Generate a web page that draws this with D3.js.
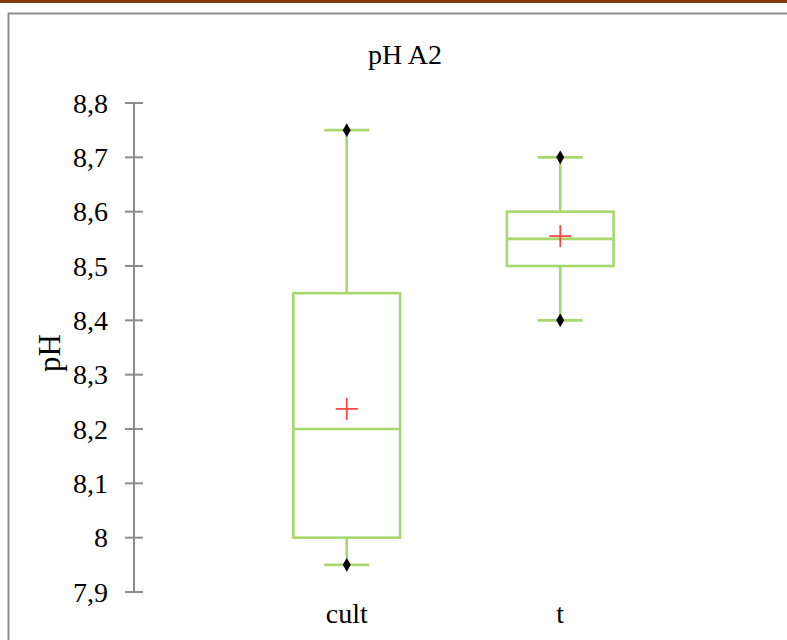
<!DOCTYPE html>
<html>
<head>
<meta charset="utf-8">
<script src="https://cdn.jsdelivr.net/npm/d3@7"></script>
<style>
  html, body { margin: 0; padding: 0; background: #ffffff; }
  svg { display: block; }
  text { font-family: "Liberation Serif", "Times New Roman", serif; fill: #000; }
</style>
</head>
<body>
<svg id="chart" width="787" height="640"></svg>
<script>
// Box plot of pH (sample A2) by group
const categories = ["cult", "t"];
const minimum  = [7.95, 8.40];
const quartile1 = [8.00, 8.50];
const median   = [8.20, 8.55];
const quartile3 = [8.45, 8.60];
const maximum  = [8.75, 8.70];
const mean     = [8.237, 8.555];
const yTicks   = [7.9, 8.0, 8.1, 8.2, 8.3, 8.4, 8.5, 8.6, 8.7, 8.8];

const svg = d3.select("#chart");
const W = 787, H = 640;

// brown rule along the top of the page
svg.append("rect").attr("x", 0).attr("y", 0).attr("width", W).attr("height", 3)
  .attr("fill", "#843c0c");

// chart frame
svg.append("path")
  .attr("d", `M8.5,${H + 5} V13.5 H${W + 5}`)
  .attr("fill", "none").attr("stroke", "#8c8c8c").attr("stroke-width", 2);

const y = d3.scaleLinear().domain([7.9, 8.8]).range([592, 103]);
const x = d3.scaleBand().domain(categories).range([240, 667]).paddingInner(0.5).paddingOuter(0.25);

// y axis
const axisG = svg.append("g").attr("transform", "translate(134,0)");
axisG.call(d3.axisLeft(y).tickValues(yTicks).tickSize(0).tickPadding(26)
  .tickFormat(d => d3.format(".1f")(d).replace(".", ",").replace(",0", "")));
axisG.select(".domain").remove();
axisG.selectAll("text").attr("font-size", 28).attr("font-family", "Liberation Serif").attr("dy", "0.33em");
axisG.append("line").attr("x1", 0).attr("x2", 0).attr("y1", y(8.8)).attr("y2", y(7.9))
  .attr("stroke", "#8c8c8c").attr("stroke-width", 2);
axisG.selectAll(".tickmark").data(yTicks).enter().append("line")
  .attr("x1", -9).attr("x2", 9).attr("y1", d => y(d)).attr("y2", d => y(d))
  .attr("stroke", "#8c8c8c").attr("stroke-width", 2);

// title and axis labels
svg.append("text").attr("x", 405).attr("y", 64).attr("text-anchor", "middle")
  .attr("font-size", 28).text("pH A2");
svg.append("text").attr("transform", "translate(60,353) rotate(-90)")
  .attr("text-anchor", "middle").attr("font-size", 31).text("pH");

const green = "#a6d86e";
const sw = 2.6;
const boxW = x.bandwidth();
const capW = 45;

const groups = svg.selectAll(".box").data(categories).enter().append("g");
groups.each(function(c, i) {
  const g = d3.select(this);
  const cx = x(c) + boxW / 2;
  // whiskers
  g.append("line").attr("x1", cx).attr("x2", cx).attr("y1", y(maximum[i])).attr("y2", y(quartile3[i]))
    .attr("stroke", green).attr("stroke-width", sw);
  g.append("line").attr("x1", cx).attr("x2", cx).attr("y1", y(quartile1[i])).attr("y2", y(minimum[i]))
    .attr("stroke", green).attr("stroke-width", sw);
  g.append("line").attr("x1", cx - capW / 2).attr("x2", cx + capW / 2).attr("y1", y(maximum[i])).attr("y2", y(maximum[i]))
    .attr("stroke", green).attr("stroke-width", sw);
  g.append("line").attr("x1", cx - capW / 2).attr("x2", cx + capW / 2).attr("y1", y(minimum[i])).attr("y2", y(minimum[i]))
    .attr("stroke", green).attr("stroke-width", sw);
  // box
  g.append("rect").attr("x", x(c)).attr("y", y(quartile3[i]))
    .attr("width", boxW).attr("height", y(quartile1[i]) - y(quartile3[i]))
    .attr("fill", "none").attr("stroke", green).attr("stroke-width", sw);
  g.append("line").attr("x1", x(c)).attr("x2", x(c) + boxW).attr("y1", y(median[i])).attr("y2", y(median[i]))
    .attr("stroke", green).attr("stroke-width", sw);
  // extreme markers
  [minimum[i], maximum[i]].forEach(v => {
    g.append("path").attr("d", d3.symbol(d3.symbolDiamond, 55)())
      .attr("transform", `translate(${cx},${y(v)})`).attr("fill", "#000");
  });
  // mean marker
  g.append("line").attr("x1", cx - 11).attr("x2", cx + 11).attr("y1", y(mean[i])).attr("y2", y(mean[i]))
    .attr("stroke", "#ff4040").attr("stroke-width", 1.7);
  g.append("line").attr("x1", cx).attr("x2", cx).attr("y1", y(mean[i]) - 11).attr("y2", y(mean[i]) + 11)
    .attr("stroke", "#ff4040").attr("stroke-width", 1.7);
  // category label
  g.append("text").attr("x", cx).attr("y", 623).attr("text-anchor", "middle")
    .attr("font-size", 28).text(c);
});
</script>
</body>
</html>
